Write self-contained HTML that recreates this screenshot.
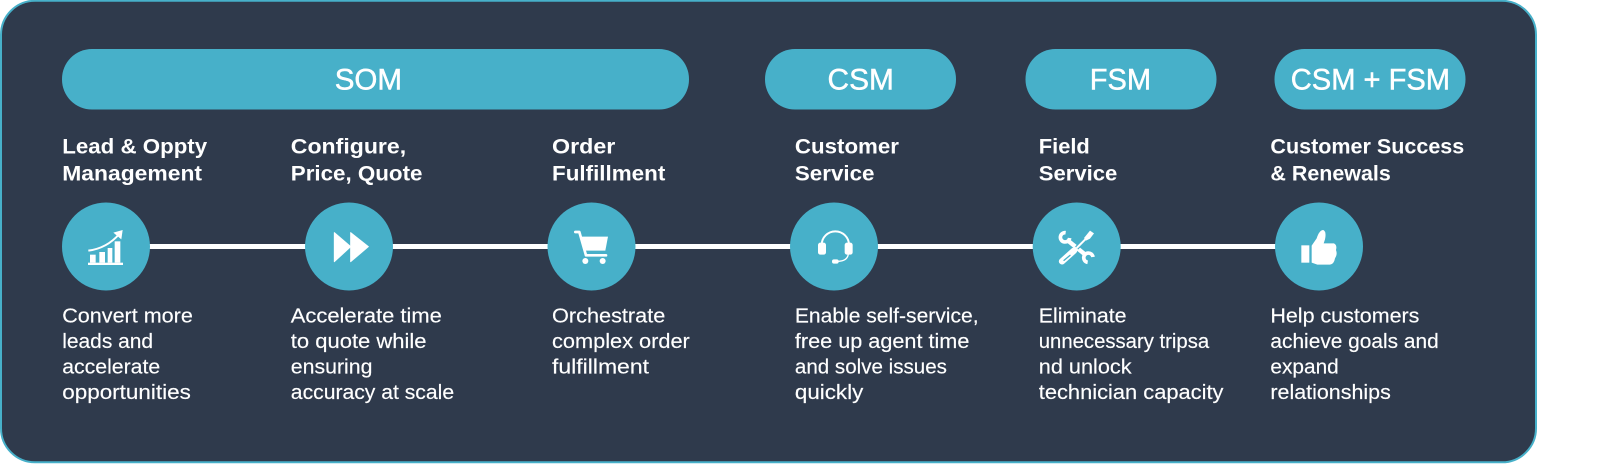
<!DOCTYPE html>
<html><head><meta charset="utf-8"><style>
html,body{margin:0;padding:0;background:#fff}
svg{display:block}
text{font-family:"Liberation Sans",sans-serif;fill:#fff}
.t{font-size:21px;font-weight:700}
.b{font-size:20px;stroke:#fff;stroke-width:.15px}
.p{font-size:29px;stroke:#fff;stroke-width:.45px}
</style></head><body>
<svg width="1600" height="464" viewBox="0 0 1600 464" xmlns="http://www.w3.org/2000/svg">
<rect x="1" y="0.8" width="1535" height="461.5" rx="34" fill="#2f3a4c" stroke="#47b0c9" stroke-width="2"/>
<rect x="106" y="244" width="1213" height="5" fill="#fff"/>
<g fill="#47b0c9">
<rect x="62" y="49" width="627" height="60.5" rx="30"/>
<rect x="765" y="49" width="191" height="60.5" rx="30"/>
<rect x="1025.5" y="49" width="191" height="60.5" rx="30"/>
<rect x="1274.5" y="49" width="191" height="60.5" rx="30"/>
<circle cx="106" cy="246.5" r="44"/><circle cx="349" cy="246.5" r="44"/><circle cx="591.5" cy="246.5" r="44"/>
<circle cx="834" cy="246.5" r="44"/><circle cx="1076.7" cy="246.5" r="44"/><circle cx="1319" cy="246.5" r="44"/>
</g>
<g transform="scale(1.0204)">
<text class="p" x="328" y="87.7" textLength="66" lengthAdjust="spacingAndGlyphs">SOM</text>
<text class="p" x="811" y="87.7" textLength="65" lengthAdjust="spacingAndGlyphs">CSM</text>
<text class="p" x="1068" y="87.7" textLength="60" lengthAdjust="spacingAndGlyphs">FSM</text>
<text class="p" x="1265" y="87.7" textLength="156" lengthAdjust="spacingAndGlyphs">CSM + FSM</text>
<text class="t" x="61" y="150.2" textLength="142" lengthAdjust="spacingAndGlyphs">Lead &amp; Oppty</text>
<text class="t" x="61" y="177.1" textLength="137" lengthAdjust="spacingAndGlyphs">Management</text>
<text class="t" x="285" y="150.2" textLength="113" lengthAdjust="spacingAndGlyphs">Configure,</text>
<text class="t" x="285" y="177.1" textLength="129" lengthAdjust="spacingAndGlyphs">Price, Quote</text>
<text class="t" x="541" y="150.2" textLength="62" lengthAdjust="spacingAndGlyphs">Order</text>
<text class="t" x="541" y="177.1" textLength="111" lengthAdjust="spacingAndGlyphs">Fulfillment</text>
<text class="t" x="779" y="150.2" textLength="102" lengthAdjust="spacingAndGlyphs">Customer</text>
<text class="t" x="779" y="177.1" textLength="78" lengthAdjust="spacingAndGlyphs">Service</text>
<text class="t" x="1018" y="150.2" textLength="50" lengthAdjust="spacingAndGlyphs">Field</text>
<text class="t" x="1018" y="177.1" textLength="77" lengthAdjust="spacingAndGlyphs">Service</text>
<text class="t" x="1245" y="150.2" textLength="190" lengthAdjust="spacingAndGlyphs">Customer Success</text>
<text class="t" x="1245" y="177.1" textLength="118" lengthAdjust="spacingAndGlyphs">&amp; Renewals</text>

<text class="b" x="61" y="315.9" textLength="128" lengthAdjust="spacingAndGlyphs">Convert more</text>
<text class="b" x="61" y="341" textLength="89" lengthAdjust="spacingAndGlyphs">leads and</text>
<text class="b" x="61" y="366" textLength="96" lengthAdjust="spacingAndGlyphs">accelerate</text>
<text class="b" x="61" y="391" textLength="126" lengthAdjust="spacingAndGlyphs">opportunities</text>
<text class="b" x="285" y="315.9" textLength="148" lengthAdjust="spacingAndGlyphs">Accelerate time</text>
<text class="b" x="285" y="341" textLength="133" lengthAdjust="spacingAndGlyphs">to quote while</text>
<text class="b" x="285" y="366" textLength="80" lengthAdjust="spacingAndGlyphs">ensuring</text>
<text class="b" x="285" y="391" textLength="160" lengthAdjust="spacingAndGlyphs">accuracy at scale</text>
<text class="b" x="541" y="315.9" textLength="111" lengthAdjust="spacingAndGlyphs">Orchestrate</text>
<text class="b" x="541" y="341" textLength="135" lengthAdjust="spacingAndGlyphs">complex order</text>
<text class="b" x="541" y="366" textLength="95" lengthAdjust="spacingAndGlyphs">fulfillment</text>
<text class="b" x="779" y="315.9" textLength="180" lengthAdjust="spacingAndGlyphs">Enable self-service,</text>
<text class="b" x="779" y="341" textLength="171" lengthAdjust="spacingAndGlyphs">free up agent time</text>
<text class="b" x="779" y="366" textLength="149" lengthAdjust="spacingAndGlyphs">and solve issues</text>
<text class="b" x="779" y="391" textLength="67" lengthAdjust="spacingAndGlyphs">quickly</text>
<text class="b" x="1018" y="315.9" textLength="86" lengthAdjust="spacingAndGlyphs">Eliminate</text>
<text class="b" x="1018" y="341" textLength="167" lengthAdjust="spacingAndGlyphs">unnecessary tripsa</text>
<text class="b" x="1018" y="366" textLength="91" lengthAdjust="spacingAndGlyphs">nd unlock</text>
<text class="b" x="1018" y="391" textLength="181" lengthAdjust="spacingAndGlyphs">technician capacity</text>
<text class="b" x="1245" y="315.9" textLength="146" lengthAdjust="spacingAndGlyphs">Help customers</text>
<text class="b" x="1245" y="341" textLength="165" lengthAdjust="spacingAndGlyphs">achieve goals and</text>
<text class="b" x="1245" y="366" textLength="67" lengthAdjust="spacingAndGlyphs">expand</text>
<text class="b" x="1245" y="391" textLength="118" lengthAdjust="spacingAndGlyphs">relationships</text>
</g>

<!-- chart + fast-forward -->
<g transform="translate(40,120) scale(.33333)" fill="#fff">
<rect x="144" y="428" width="105" height="7"/>
<rect x="150" y="404" width="17" height="24"/><rect x="178" y="396" width="17" height="32"/><rect x="203" y="384" width="14" height="44"/><rect x="224" y="364" width="17" height="64"/>
<path d="M145 392 Q200 385 238 342" fill="none" stroke="#fff" stroke-width="6"/>
<path d="M248 330 L244 358 L220 338 Z"/>
<path d="M883 338 L932 380 L883 425 Z" stroke="#fff" stroke-width="3" stroke-linejoin="round"/>
<path d="M932 338 L985 380 L932 425 Z" stroke="#fff" stroke-width="3" stroke-linejoin="round"/>
</g>
<!-- cart + headset -->
<g transform="translate(500,180) scale(.33333)" fill="#fff">
<path d="M226 156 L238 156 L258 226 L318 226" fill="none" stroke="#fff" stroke-width="8" stroke-linecap="round" stroke-linejoin="round"/>
<path d="M242 170 L324 170 L316 212 L254 212 Z"/>
<circle cx="256" cy="243" r="9"/><circle cx="308" cy="243" r="9"/>
<path d="M965 195 A41 41 0 0 1 1047 195" fill="none" stroke="#fff" stroke-width="6"/>
<rect x="954" y="188" width="24" height="36" rx="7"/><rect x="1034" y="188" width="24" height="36" rx="7"/>
<path d="M1045 222 Q1042 244 1012 244" fill="none" stroke="#fff" stroke-width="4"/>
<rect x="996" y="238" width="20" height="13" rx="6"/>
</g>
<!-- tools + thumb -->
<g transform="translate(980,180) scale(.33333)" fill="#fff">
<path d="M264 182 L316 224" stroke="#fff" stroke-width="13" fill="none"/>
<path d="M257 158 A14 14 0 1 0 269 174" fill="none" stroke="#fff" stroke-width="11"/>
<path d="M339 231 A14 14 0 1 0 323 247" fill="none" stroke="#fff" stroke-width="11"/>
<path d="M334 160 L284 208" fill="none" stroke="#2f3a4c" stroke-width="0"/>
<path d="M336 158 L290 204" fill="none" stroke="#47b0c9" stroke-width="13"/>
<path d="M336 158 L290 204" fill="none" stroke="#fff" stroke-width="6"/>
<path d="M330 152 L342 160 L330 176 L318 182 L312 174 Z"/>
<path d="M282 212 L246 244" stroke="#fff" stroke-width="19" stroke-linecap="round" fill="none"/>
<path d="M270 226 L252 241" stroke="#47b0c9" stroke-width="4" stroke-linecap="round" fill="none"/>
<rect x="964" y="196" width="24" height="52"/>
<path d="M995 197 L1010 175 Q1018 150 1030 150 Q1040 155 1035 178 L1031 190 L1062 190 Q1072 195 1068 210 Q1073 224 1065 235 Q1062 252 1050 254 L1012 254 L995 248 Z"/>
</g>
</svg>
</body></html>
